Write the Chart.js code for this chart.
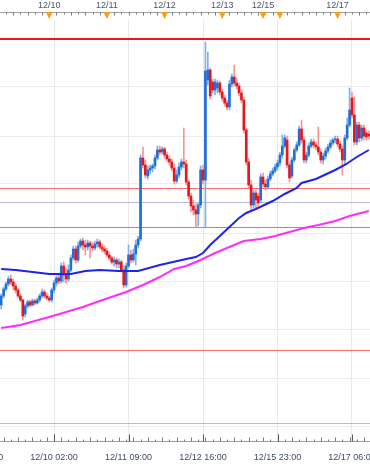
<!DOCTYPE html>
<html>
<head>
<meta charset="utf-8">
<script src="https://cdn.jsdelivr.net/npm/chart.js@4.4.1/dist/chart.umd.min.js"></script>
<style>
  html, body { margin: 0; padding: 0; background: #fff; overflow: hidden; }
  canvas { display: block; }
</style>
</head>
<body>
<canvas id="chart" width="370" height="466"></canvas>
<script>
// hourly bars per trading day: [date, first hour, last hour]
const sessions = [['12/09', 4, 23], ['12/10', 0, 23], ['12/11', 0, 23], ['12/12', 0, 23],
  ['12/13', 0, 6], ['12/15', 7, 23], ['12/16', 0, 23], ['12/17', 0, 13]];
const labels = [];
sessions.forEach(([d, h0, h1]) => {
  for (let h = h0; h <= h1; h++) labels.push(d + ' ' + String(h).padStart(2, '0') + ':00');
});

// OHLC, 10 bars per row
const opens = [
  1.2295, 1.2304, 1.2311, 1.2316, 1.2321, 1.2318, 1.2314, 1.2310, 1.2304, 1.2300,
  1.2286, 1.2294, 1.2298, 1.2295, 1.2299, 1.2297, 1.2300, 1.2304, 1.2308, 1.2304,
  1.2302, 1.2300, 1.2310, 1.2317, 1.2322, 1.2319, 1.2334, 1.2325, 1.2321, 1.2330,
  1.2342, 1.2351, 1.2340, 1.2354, 1.2359, 1.2355, 1.2353, 1.2357, 1.2354, 1.2352,
  1.2356, 1.2358, 1.2353, 1.2351, 1.2349, 1.2345, 1.2342, 1.2338, 1.2340, 1.2336,
  1.2338, 1.2330, 1.2315, 1.2334, 1.2345, 1.2340, 1.2346, 1.2355, 1.2361, 1.2442,
  1.2435, 1.2424, 1.2430, 1.2432, 1.2434, 1.2442, 1.2450, 1.2448, 1.2451, 1.2445,
  1.2441, 1.2438, 1.2432, 1.2419, 1.2425, 1.2433, 1.2438, 1.2436, 1.2418, 1.2404,
  1.2394, 1.2390, 1.2386, 1.2395, 1.2430, 1.2420, 1.2520, 1.2530, 1.2518, 1.2510,
  1.2512, 1.2517, 1.2508, 1.2502, 1.2497, 1.2493, 1.2516, 1.2523, 1.2517, 1.2514,
  1.2507, 1.2500, 1.2470, 1.2438, 1.2415, 1.2395, 1.2407, 1.2404, 1.2400, 1.2423,
  1.2416, 1.2413, 1.2421, 1.2426, 1.2429, 1.2433, 1.2437, 1.2445, 1.2454, 1.2460,
  1.2435, 1.2424, 1.2440, 1.2450, 1.2455, 1.2471, 1.2460, 1.2440, 1.2445, 1.2454,
  1.2458, 1.2455, 1.2453, 1.2448, 1.2440, 1.2444, 1.2449, 1.2453, 1.2457, 1.2460,
  1.2461, 1.2456, 1.2451, 1.2440, 1.2462, 1.2475, 1.2502, 1.2485, 1.2458, 1.2475,
  1.2462, 1.2472, 1.2467, 1.2466
];
const highs = [
  1.2306, 1.2313, 1.2318, 1.2324, 1.2325, 1.2321, 1.2317, 1.2312, 1.2306, 1.2301,
  1.2296, 1.2300, 1.2300, 1.2301, 1.2301, 1.2302, 1.2306, 1.2311, 1.2310, 1.2307,
  1.2304, 1.2312, 1.2320, 1.2324, 1.2325, 1.2337, 1.2338, 1.2332, 1.2335, 1.2345,
  1.2354, 1.2354, 1.2358, 1.2361, 1.2362, 1.2360, 1.2360, 1.2359, 1.2358, 1.2359,
  1.2361, 1.2360, 1.2356, 1.2354, 1.2352, 1.2348, 1.2344, 1.2343, 1.2342, 1.2341,
  1.2340, 1.2334, 1.2337, 1.2355, 1.2350, 1.2351, 1.2360, 1.2364, 1.2445, 1.2453,
  1.2440, 1.2434, 1.2435, 1.2436, 1.2445, 1.2454, 1.2454, 1.2453, 1.2453, 1.2448,
  1.2444, 1.2441, 1.2436, 1.2430, 1.2437, 1.2441, 1.2472, 1.2440, 1.2420, 1.2407,
  1.2400, 1.2396, 1.2397, 1.2434, 1.2435, 1.2558, 1.2548, 1.2532, 1.2521, 1.2521,
  1.2520, 1.2519, 1.2511, 1.2505, 1.2500, 1.2520, 1.2526, 1.2535, 1.2522, 1.2517,
  1.2510, 1.2503, 1.2472, 1.2442, 1.2420, 1.2410, 1.2410, 1.2407, 1.2426, 1.2427,
  1.2420, 1.2424, 1.2429, 1.2432, 1.2436, 1.2440, 1.2448, 1.2465, 1.2465, 1.2464,
  1.2438, 1.2443, 1.2452, 1.2458, 1.2474, 1.2480, 1.2463, 1.2448, 1.2457, 1.2461,
  1.2461, 1.2458, 1.2473, 1.2451, 1.2447, 1.2452, 1.2456, 1.2460, 1.2462, 1.2464,
  1.2464, 1.2459, 1.2454, 1.2465, 1.2482, 1.2512, 1.2508, 1.2503, 1.2478, 1.2478,
  1.2475, 1.2475, 1.2470, 1.2469
];
const lows = [
  1.2291, 1.2302, 1.2309, 1.2314, 1.2315, 1.2310, 1.2307, 1.2302, 1.2298, 1.2280,
  1.2283, 1.2292, 1.2293, 1.2294, 1.2295, 1.2296, 1.2298, 1.2302, 1.2302, 1.2300,
  1.2298, 1.2298, 1.2307, 1.2314, 1.2316, 1.2317, 1.2318, 1.2317, 1.2319, 1.2328,
  1.2340, 1.2337, 1.2338, 1.2352, 1.2350, 1.2345, 1.2350, 1.2342, 1.2349, 1.2350,
  1.2353, 1.2351, 1.2348, 1.2346, 1.2343, 1.2340, 1.2336, 1.2334, 1.2332, 1.2332,
  1.2328, 1.2312, 1.2313, 1.2332, 1.2337, 1.2338, 1.2335, 1.2352, 1.2359, 1.2432,
  1.2422, 1.2421, 1.2426, 1.2428, 1.2431, 1.2440, 1.2445, 1.2446, 1.2442, 1.2438,
  1.2435, 1.2429, 1.2416, 1.2417, 1.2422, 1.2430, 1.2432, 1.2415, 1.2401, 1.2388,
  1.2385, 1.2373, 1.2374, 1.2392, 1.2416, 1.2372, 1.2515, 1.2501, 1.2507, 1.2505,
  1.2507, 1.2505, 1.2499, 1.2494, 1.2490, 1.2490, 1.2513, 1.2514, 1.2511, 1.2504,
  1.2497, 1.2467, 1.2435, 1.2412, 1.2390, 1.2392, 1.2392, 1.2394, 1.2397, 1.2413,
  1.2410, 1.2411, 1.2419, 1.2424, 1.2427, 1.2430, 1.2434, 1.2442, 1.2452, 1.2432,
  1.2418, 1.2422, 1.2438, 1.2448, 1.2453, 1.2457, 1.2437, 1.2437, 1.2443, 1.2452,
  1.2452, 1.2450, 1.2445, 1.2437, 1.2436, 1.2441, 1.2447, 1.2451, 1.2455, 1.2457,
  1.2453, 1.2448, 1.2425, 1.2436, 1.2460, 1.2473, 1.2482, 1.2455, 1.2455, 1.2458,
  1.2459, 1.2460, 1.2460, 1.2461
];
const closes = [
  1.2304, 1.2311, 1.2316, 1.2321, 1.2318, 1.2314, 1.2310, 1.2304, 1.2300, 1.2284,
  1.2294, 1.2298, 1.2295, 1.2299, 1.2297, 1.2300, 1.2304, 1.2308, 1.2304, 1.2302,
  1.2300, 1.2310, 1.2317, 1.2322, 1.2319, 1.2334, 1.2325, 1.2321, 1.2330, 1.2342,
  1.2351, 1.2340, 1.2354, 1.2359, 1.2355, 1.2353, 1.2357, 1.2354, 1.2352, 1.2356,
  1.2358, 1.2353, 1.2351, 1.2349, 1.2345, 1.2342, 1.2338, 1.2340, 1.2336, 1.2338,
  1.2330, 1.2315, 1.2334, 1.2345, 1.2340, 1.2346, 1.2355, 1.2361, 1.2442, 1.2435,
  1.2425, 1.2430, 1.2432, 1.2434, 1.2442, 1.2450, 1.2448, 1.2451, 1.2445, 1.2441,
  1.2438, 1.2432, 1.2419, 1.2425, 1.2433, 1.2438, 1.2436, 1.2418, 1.2404, 1.2394,
  1.2390, 1.2386, 1.2395, 1.2430, 1.2420, 1.2529, 1.2530, 1.2504, 1.2510, 1.2518,
  1.2517, 1.2508, 1.2502, 1.2497, 1.2493, 1.2516, 1.2523, 1.2517, 1.2514, 1.2507,
  1.2500, 1.2470, 1.2438, 1.2415, 1.2395, 1.2407, 1.2400, 1.2397, 1.2423, 1.2416,
  1.2413, 1.2421, 1.2426, 1.2429, 1.2433, 1.2437, 1.2445, 1.2454, 1.2462, 1.2435,
  1.2422, 1.2440, 1.2450, 1.2455, 1.2471, 1.2460, 1.2440, 1.2445, 1.2454, 1.2458,
  1.2455, 1.2453, 1.2448, 1.2440, 1.2444, 1.2449, 1.2453, 1.2457, 1.2460, 1.2461,
  1.2456, 1.2451, 1.2440, 1.2462, 1.2475, 1.2490, 1.2485, 1.2458, 1.2475, 1.2462,
  1.2472, 1.2464, 1.2463, 1.2464
];

// moving averages, read at these bar indices
const fastMaAt = [0, 6, 13, 20, 29, 35, 41, 49, 57, 66, 77, 81, 84, 87, 91, 95, 99, 102, 106, 113, 118, 123, 125, 131, 139, 143, 148, 153];
const fastMa = [1.2331, 1.2330, 1.2328, 1.2326, 1.2326, 1.2329, 1.2330, 1.2329, 1.2329, 1.2335, 1.2341, 1.2343, 1.2347, 1.2355,
  1.2364, 1.2373, 1.2382, 1.2387, 1.2391, 1.2399, 1.2406, 1.2412, 1.2417, 1.2421, 1.2430, 1.2435, 1.2443, 1.2450];
const slowMaAt = [0, 8, 20, 27, 34, 41, 52, 59, 66, 72, 77, 83, 89, 95, 101, 108, 114, 120, 126, 132, 139, 145, 153];
const slowMa = [1.2272, 1.2275, 1.2283, 1.2288, 1.2293, 1.2299, 1.2308, 1.2315, 1.2323, 1.2331, 1.2334, 1.2340, 1.2347,
  1.2353, 1.2359, 1.2361, 1.2364, 1.2368, 1.2372, 1.2375, 1.2379, 1.2384, 1.2389];

// horizontal levels
const mainLevel = 1.2561;
const redLevels = [1.2412, 1.2373, 1.2250];
const blueLevels = [1.2398, 1.2177];
const gridLevels = [1.2562, 1.2513, 1.2464, 1.2416, 1.2367, 1.2319, 1.2270, 1.2222, 1.2173];

// axis labels
const bottomTickAt = [-9, 22, 53, 84, 115, 146];
const bottomTickText = ['12/08 19:00', '12/10 02:00', '12/11 09:00', '12/12 16:00', '12/15 23:00', '12/17 06:00'];
const topMarkAt = [20, 44, 68, 92, 109, 116, 140];
const topMarkText = ['12/10', '12/11', '12/12', '12/13', '12/15', '', '12/17'];

const bull = closes.map((c, i) => c >= opens[i]);
const FONT = '9px "Liberation Sans", Arial, sans-serif';

const crisp = v => Math.round(v) + 0.5;

const rulers = {
  id: 'rulers',
  beforeDatasetsDraw(chart) {
    const { ctx, chartArea: a, scales: { y } } = chart;
    ctx.save();
    const hline = (v, color, w) => {
      const py = w === 1 ? crisp(y.getPixelForValue(v)) : Math.round(y.getPixelForValue(v));
      ctx.strokeStyle = color;
      ctx.lineWidth = w;
      ctx.beginPath();
      ctx.moveTo(a.left, py);
      ctx.lineTo(a.right, py);
      ctx.stroke();
    };
    blueLevels.forEach(v => hline(v, '#b4bad8', 1));
    redLevels.forEach(v => hline(v, '#f36b6b', 1));
    hline(mainLevel, '#e8161e', 2);
    ctx.restore();
  },
  afterDraw(chart) {
    const { ctx, chartArea: a, scales: { x } } = chart;
    const n = labels.length;
    ctx.save();
    ctx.lineWidth = 1;

    // bottom time ruler
    const by = 441.5;
    ctx.strokeStyle = '#a0a0a0';
    ctx.beginPath(); ctx.moveTo(0, by); ctx.lineTo(a.right, by); ctx.stroke();
    ctx.strokeStyle = '#7a7a7a';
    for (let i = -12; i < n + 3; i++) {
      const k = i - 22;
      if (((k % 3) + 3) % 3 !== 0) continue;
      const px = crisp(x.getPixelForValue(i));
      const len = bottomTickAt.includes(i) ? 7 : ((k / 3) % 2 !== 0 ? 4 : 2);
      ctx.beginPath(); ctx.moveTo(px, by); ctx.lineTo(px, by - len); ctx.stroke();
    }
    ctx.strokeStyle = '#555';
    ctx.font = FONT;
    ctx.fillStyle = '#3f4c68';
    ctx.textAlign = 'center';
    ctx.textBaseline = 'middle';
    bottomTickAt.forEach((i, j) => {
      const px = x.getPixelForValue(i);
      ctx.beginPath(); ctx.moveTo(crisp(px), by); ctx.lineTo(crisp(px), by - 7); ctx.stroke();
      ctx.fillText(bottomTickText[j], px, 458);
    });

    // top date ruler
    const ty = 12.5;
    ctx.strokeStyle = '#a0a0a0';
    ctx.beginPath(); ctx.moveTo(0, ty); ctx.lineTo(a.right, ty); ctx.stroke();
    ctx.strokeStyle = '#7a7a7a';
    for (let i = 0; i < n + 3; i++) {
      const k = i - 20;
      if (((k % 3) + 3) % 3 !== 0 || topMarkAt.includes(i)) continue;
      const px = crisp(x.getPixelForValue(i));
      const len = (k / 3) % 2 !== 0 ? 3 : 2;
      ctx.beginPath(); ctx.moveTo(px, ty); ctx.lineTo(px, ty + len); ctx.stroke();
    }
    ctx.fillStyle = '#f5a01a';
    topMarkAt.forEach(i => {
      const px = x.getPixelForValue(i);
      ctx.beginPath();
      ctx.moveTo(px - 3.5, 12);
      ctx.lineTo(px + 3.5, 12);
      ctx.lineTo(px, 19);
      ctx.closePath();
      ctx.fill();
    });
    ctx.fillStyle = '#4f5566';
    topMarkAt.forEach((i, j) => {
      if (topMarkText[j]) ctx.fillText(topMarkText[j], x.getPixelForValue(i), 5.5);
    });
    ctx.restore();
  }
};

new Chart(document.getElementById('chart'), {
  type: 'bar',
  data: {
    labels,
    datasets: [
      {
        type: 'line', label: 'MA fast',
        data: fastMaAt.map((k, j) => ({ x: labels[k], y: fastMa[j] })),
        borderColor: '#1f24e8', borderWidth: 2, pointRadius: 0, tension: 0, order: 0
      },
      {
        type: 'line', label: 'MA slow',
        data: slowMaAt.map((k, j) => ({ x: labels[k], y: slowMa[j] })),
        borderColor: '#ff2cff', borderWidth: 2, pointRadius: 0, tension: 0, order: 1
      },
      {
        label: 'body',
        data: opens.map((o, i) => [o, closes[i]]),
        backgroundColor: bull.map(b => b ? '#1e6fd9' : '#e6161d'),
        barThickness: 2, minBarLength: 1, grouped: false, borderWidth: 0, order: 2
      },
      {
        label: 'wick',
        data: lows.map((l, i) => [l, highs[i]]),
        backgroundColor: bull.map(b => b ? '#7fb0ea' : '#f39595'),
        barThickness: 1, grouped: false, borderWidth: 0, order: 3
      }
    ]
  },
  options: {
    responsive: false,
    devicePixelRatio: 1,
    animation: false,
    events: [],
    layout: { padding: { top: 20, bottom: 24, left: 0, right: 0 } },
    plugins: { legend: { display: false }, tooltip: { enabled: false } },
    scales: {
      x: {
        offset: true,
        border: { display: false },
        grid: {
          offset: false, drawTicks: false,
          color: c => bottomTickAt.includes(c.index) ? '#e9e9e9' : 'rgba(0,0,0,0)'
        },
        ticks: { display: false, autoSkip: false },
        afterFit: s => { s.height = 0; }
      },
      y: {
        min: 1.2158, max: 1.2580,
        border: { display: false },
        grid: { drawTicks: false, color: '#ececec' },
        ticks: { display: false },
        afterBuildTicks: s => { s.ticks = gridLevels.map(v => ({ value: v })); },
        afterFit: s => { s.width = 0; }
      }
    }
  },
  plugins: [rulers]
});
</script>
</body>
</html>
